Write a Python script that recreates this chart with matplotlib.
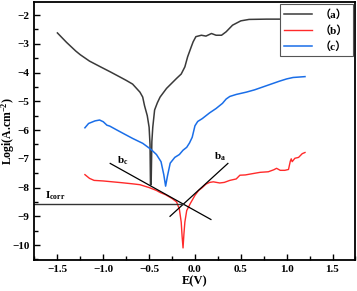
import matplotlib
matplotlib.use("Agg")
import matplotlib.pyplot as plt
from matplotlib.ticker import MultipleLocator

plt.rcParams['font.family'] = ['Liberation Serif', 'Noto Sans CJK SC', 'DejaVu Sans']
plt.rcParams['font.weight'] = 'bold'
plt.rcParams['mathtext.fontset'] = 'custom'
plt.rcParams['mathtext.rm'] = 'Liberation Serif:bold'
plt.rcParams['mathtext.it'] = 'Liberation Serif:bold'
plt.rcParams['mathtext.bf'] = 'Liberation Serif:bold'

# ---- data ----
E_a = [-1.5, -1.4, -1.3, -1.25, -1.15, -1.03, -0.92, -0.82, -0.75, -0.68, -0.6, -0.57, -0.55,
       -0.52, -0.5, -0.49, -0.485, -0.478, -0.47, -0.46, -0.44, -0.41, -0.38, -0.31, -0.2,
       -0.15, -0.11, -0.08, -0.04, -0.02, 0.01, 0.07, 0.12, 0.18, 0.23, 0.29, 0.34, 0.41,
       0.5, 0.59, 0.78, 0.94, 1.2]
L_a = [-2.62, -2.95, -3.25, -3.38, -3.6, -3.8, -3.98, -4.15, -4.27, -4.4, -4.68, -4.85, -5.15,
       -5.5, -5.9, -6.5, -7.9, -7.9, -6.4, -5.9, -5.3, -5.05, -4.85, -4.55, -4.2,
       -4.05, -3.8, -3.45, -3.1, -2.93, -2.75, -2.7, -2.73, -2.64, -2.7, -2.7, -2.58, -2.35,
       -2.2, -2.15, -2.14, -2.14, -2.12]

E_b = [-1.2, -1.15, -1.1, -1.0, -0.9, -0.8, -0.68, -0.6, -0.5, -0.42, -0.38, -0.32, -0.25,
       -0.2, -0.17, -0.15, -0.14, -0.13, -0.12, -0.11, -0.09, -0.05, 0.0, 0.04, 0.08, 0.12,
       0.16, 0.2, 0.27, 0.32, 0.38, 0.45, 0.49, 0.55, 0.62, 0.71, 0.8, 0.86, 0.89, 0.93,
       0.98, 1.02, 1.04, 1.05, 1.06, 1.09, 1.13, 1.17, 1.2]
L_b = [-7.55, -7.68, -7.75, -7.77, -7.8, -7.83, -7.87, -7.9, -8.0, -8.1, -8.17, -8.25, -8.38,
       -8.5, -8.75, -9.2, -9.7, -10.1, -9.6, -9.2, -8.8, -8.55, -8.27, -8.1, -8.0, -7.88,
       -7.82, -7.8, -7.84, -7.82, -7.75, -7.7, -7.57, -7.56, -7.52, -7.47, -7.45, -7.38, -7.33, -7.4,
       -7.4, -7.37, -7.08, -7.0, -7.1, -6.98, -6.95, -6.82, -6.78]

E_c = [-1.2, -1.16, -1.09, -1.04, -1.0, -0.96, -0.93, -0.85, -0.78, -0.68, -0.57, -0.48,
       -0.42, -0.37, -0.34, -0.32, -0.3, -0.27, -0.22, -0.17, -0.13, -0.09, -0.06, -0.03,
       0.0, 0.03, 0.08, 0.16, 0.23, 0.3, 0.34, 0.38, 0.45, 0.56, 0.65, 0.74, 0.83, 0.92,
       1.0, 1.07, 1.2]
L_c = [-5.92, -5.77, -5.68, -5.65, -5.71, -5.83, -5.86, -6.0, -6.12, -6.29, -6.46, -6.67,
       -6.85, -7.1, -7.55, -7.95, -7.6, -7.15, -6.95, -6.85, -6.7, -6.6, -6.45, -6.25,
       -5.85, -5.7, -5.6, -5.4, -5.25, -5.07, -4.92, -4.83, -4.76, -4.68, -4.6, -4.5, -4.4, -4.3,
       -4.22, -4.17, -4.14]

# Tafel construction lines
bc_E = [-0.924, 0.174]
bc_L = [-7.16, -9.11]
ba_E = [-0.272, 0.359]
ba_L = [-9.0, -7.16]
icorr_E = [-1.75, -0.13]
icorr_L = [-8.56, -8.56]

labels = ['（a）', '（b）', '（c）']
colors = ['#3a3a3a', '#ff2a2a', '#1a6ee8']

# ---- figure ----
fig = plt.figure(figsize=(3.57, 2.91), dpi=100)
ax = fig.add_axes([0.0966, 0.1065, 0.899, 0.888])

ax.plot(E_a, L_a, color=colors[0], lw=1.1, label=labels[0])
ax.plot(E_b, L_b, color=colors[1], lw=1.0, label=labels[1])
ax.plot(E_c, L_c, color=colors[2], lw=1.1, label=labels[2])

ax.plot(bc_E, bc_L, color='black', lw=0.9)
ax.plot(ba_E, ba_L, color='black', lw=0.9)
ax.plot(icorr_E, icorr_L, color='#333333', lw=1.0)

ax.text(-1.64, -8.5, r'I$_{\rm corr}$', fontsize=8, ha='left', va='bottom')
ax.text(-0.79, -7.05, r'b$_{\rm c}$', fontsize=8, ha='center', va='center')
ax.text(0.27, -6.92, r'b$_{\rm a}$', fontsize=8, ha='center', va='center')

ax.set_xlim(-1.75, 1.75)
ax.set_ylim(-10.52, -1.53)
ax.xaxis.set_major_locator(MultipleLocator(0.5))
ax.xaxis.set_minor_locator(MultipleLocator(0.25))
ax.yaxis.set_major_locator(MultipleLocator(1))
ax.yaxis.set_minor_locator(MultipleLocator(0.5))
ax.tick_params(which='both', direction='in', labelsize=8, width=1.0)
ax.tick_params(which='major', length=4)
ax.tick_params(which='minor', length=3)
for lab in ax.get_xticklabels() + ax.get_yticklabels():
    lab.set_fontweight('bold')
for s in ax.spines.values():
    s.set_linewidth(1.3)

ax.set_xlabel('E(V)', fontsize=9, fontweight='bold', labelpad=1)
ax.set_ylabel(r'Logi(A.cm$^{-2}$)', fontsize=8.5, fontweight='bold')
ax.yaxis.set_label_coords(-0.053, 0.5)

leg = ax.legend(loc='upper right', fontsize=8, frameon=True, fancybox=False,
                edgecolor='#555555', framealpha=1, borderaxespad=0.25,
                handlelength=2.5, handletextpad=0.7, labelspacing=0.5,
                prop={'weight': 'bold', 'size': 8})
leg.get_frame().set_linewidth(0.8)

fig.savefig('out.png', dpi=100)
